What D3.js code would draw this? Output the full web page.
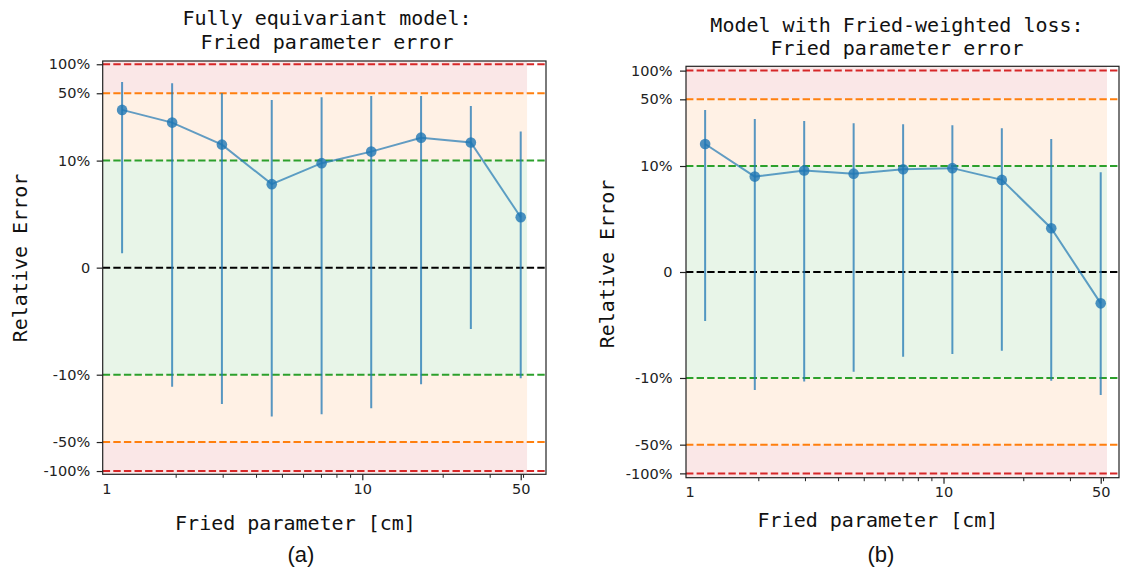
<!DOCTYPE html>
<html><head><meta charset="utf-8">
<script src="https://cdn.jsdelivr.net/npm/d3@7"></script>
<style>body{margin:0;background:#fff} svg{display:block}</style>
</head><body>
<svg id="c" width="1122" height="569"></svg>
<script>
// ---------- data ----------
const friedParam = [1.26, 1.94, 2.98, 4.58, 7.04, 10.8, 16.6, 25.5, 39.2];
const equivMedian = [0.336, 0.248, 0.1465, 0.078, 0.0976, 0.124, 0.173, 0.154, 0.0471];
const equivUpper  = [0.655, 0.635, 0.50, 0.426, 0.455, 0.469, 0.469, 0.369, 0.20];
const equivLower  = [0.0135, -0.133, -0.201, -0.272, -0.257, -0.223, -0.126, -0.0573, -0.109];
const weightedMedian = [0.170, 0.090, 0.0957, 0.0928, 0.097, 0.098, 0.0869, 0.0413, -0.0296];
const weightedUpper  = [0.387, 0.312, 0.297, 0.281, 0.274, 0.2676, 0.249, 0.192, 0.094];
const weightedLower  = [-0.0463, -0.134, -0.109, -0.094, -0.080, -0.0774, -0.0743, -0.107, -0.151];
const yTickValues = [-1, -0.5, -0.1, 0, 0.1, 0.5, 1];
const yTickLabels = ["-100%", "-50%", "-10%", "0", "10%", "50%", "100%"];
const xTickValues = [1.1, 10, 39.2];
const xTickLabels = ["1", "10", "50"];
const xMinorTicks = [2, 3, 4, 5, 6, 7, 8, 9, 20, 30, 40];
const bandLimits = [0.1, 0.5, 1];          // green / orange / red thresholds
const shadeEnd = 41.4;                      // x extent of shaded bands
const titles = [["Fully equivariant model:", "Fried parameter error"],
                ["Model with Fried-weighted loss:", "Fried parameter error"]];
const panelTags = ["(a)", "(b)"];

// ---------- layout ----------
const panels = [
  {x0:102.7, x1:546, y0:61, y1:474.3, xDom:[1.066, 48.75], yMax:1.081,
   med:equivMedian, lo:equivLower, hi:equivUpper, title:titles[0],
   titleX:327, titleY:[25, 48.5], xlabX:295.5, xlabY:530, ylabX:27, ylabY:258,
   tagX:301, tagY:562, tag:panelTags[0], yPad:6.5},
  {x0:686, x1:1119, y0:66.3, y1:477.7, xDom:[1.067, 45.95], yMax:1.11,
   med:weightedMedian, lo:weightedLower, hi:weightedUpper, title:titles[1],
   titleX:897, titleY:[31.5, 55], xlabX:878, xlabY:527, ylabX:614, ylabY:264,
   tagX:881, tagY:562, tag:panelTags[1], yPad:7.5}
];

// matplotlib-style symlog transform (linthresh 0.1, linscale 1)
const LINTHRESH = 0.1, LINSCALE_ADJ = 1 / (1 - 1 / 10);
function symlog(v) {
  const a = Math.abs(v);
  const t = a <= LINTHRESH ? a / LINTHRESH * LINSCALE_ADJ : LINSCALE_ADJ + Math.log10(a / LINTHRESH);
  return Math.sign(v) * t;
}

const svg = d3.select("#c");
const blue = "#1f77b4";
const bandColors = {green:"#2ca02c", orange:"#ff7f0e", red:"#d62728"};
const mono = "'DejaVu Sans Mono', monospace";

panels.forEach((p, pi) => {
  const x = d3.scaleLog().domain(p.xDom).range([p.x0, p.x1]);
  const yT = d3.scaleLinear().domain([symlog(-p.yMax), symlog(p.yMax)]).range([p.y1, p.y0]);
  const y = v => yT(symlog(v));
  const g = svg.append("g");

  const clipId = "clip" + pi;
  g.append("clipPath").attr("id", clipId).append("rect")
    .attr("x", p.x0).attr("y", p.y0).attr("width", p.x1 - p.x0).attr("height", p.y1 - p.y0);
  const plot = g.append("g").attr("clip-path", `url(#${clipId})`);

  // shaded bands
  const bands = [
    {a: bandLimits[1], b: p.yMax, c: bandColors.red, o: 0.11},
    {a: bandLimits[0], b: bandLimits[1], c: bandColors.orange, o: 0.11},
    {a: -bandLimits[0], b: bandLimits[0], c: bandColors.green, o: 0.11},
    {a: -bandLimits[1], b: -bandLimits[0], c: bandColors.orange, o: 0.11},
    {a: -p.yMax, b: -bandLimits[1], c: bandColors.red, o: 0.11}
  ];
  plot.selectAll("rect.band").data(bands).join("rect").attr("class", "band")
    .attr("x", x(p.xDom[0])).attr("width", x(shadeEnd) - x(p.xDom[0]))
    .attr("y", d => y(d.b)).attr("height", d => y(d.a) - y(d.b))
    .attr("fill", d => d.c).attr("fill-opacity", d => d.o);

  // dashed reference lines
  const refs = [
    {v: 1, c: bandColors.red}, {v: -1, c: bandColors.red},
    {v: 0.5, c: bandColors.orange}, {v: -0.5, c: bandColors.orange},
    {v: 0.1, c: bandColors.green}, {v: -0.1, c: bandColors.green},
    {v: 0, c: "#000"}
  ];
  plot.selectAll("line.ref").data(refs).join("line").attr("class", "ref")
    .attr("x1", p.x0).attr("x2", p.x1).attr("y1", d => y(d.v)).attr("y2", d => y(d.v))
    .attr("stroke", d => d.c).attr("stroke-width", 2).attr("stroke-dasharray", "7.4,3.2");

  // error bars
  plot.selectAll("line.err").data(friedParam).join("line").attr("class", "err")
    .attr("x1", d => x(d)).attr("x2", d => x(d))
    .attr("y1", (d, i) => y(p.lo[i])).attr("y2", (d, i) => y(p.hi[i]))
    .attr("stroke", blue).attr("stroke-width", 2).attr("stroke-opacity", 0.75);

  // line
  const line = d3.line().x(d => x(d[0])).y(d => y(d[1]));
  plot.append("path").datum(friedParam.map((d, i) => [d, p.med[i]]))
    .attr("d", line).attr("fill", "none").attr("stroke", blue)
    .attr("stroke-width", 2).attr("stroke-opacity", 0.7);

  // markers
  plot.selectAll("circle").data(friedParam).join("circle")
    .attr("cx", d => x(d)).attr("cy", (d, i) => y(p.med[i])).attr("r", 5.3)
    .attr("fill", blue).attr("fill-opacity", 0.8);

  // frame
  g.append("rect").attr("x", p.x0).attr("y", p.y0).attr("width", p.x1 - p.x0).attr("height", p.y1 - p.y0)
    .attr("fill", "none").attr("stroke", "#222").attr("stroke-width", 1.2);

  // y axis
  const yAx = d3.axisLeft(yT).tickValues(yTickValues.map(symlog))
    .tickFormat((d, i) => yTickLabels[i]).tickSize(6).tickPadding(p.yPad);
  const ya = g.append("g").attr("transform", `translate(${p.x0},0)`).call(yAx);
  ya.select(".domain").remove();
  ya.selectAll("line").attr("stroke", "#222").attr("stroke-width", 1.2);
  ya.selectAll("text").attr("font-family", "'DejaVu Sans', sans-serif").attr("font-size", 14.5).attr("fill", "#222");

  // x axis (major)
  const xAx = d3.axisBottom(x).tickValues(xTickValues)
    .tickFormat((d, i) => xTickLabels[i]).tickSize(6).tickPadding(3.5);
  const xa = g.append("g").attr("transform", `translate(0,${p.y1})`).call(xAx);
  xa.select(".domain").remove();
  xa.selectAll("line").attr("stroke", "#222").attr("stroke-width", 1.2)
    .attr("stroke-opacity", (d, i) => i === 0 ? 0 : 1);
  xa.selectAll("text").attr("font-family", "'DejaVu Sans', sans-serif").attr("font-size", 14.5).attr("fill", "#222");

  // x axis (minor)
  const xm = g.append("g").attr("transform", `translate(0,${p.y1})`)
    .call(d3.axisBottom(x).tickValues(xMinorTicks).tickFormat("").tickSize(3.5));
  xm.select(".domain").remove();
  xm.selectAll("line").attr("stroke", "#222").attr("stroke-width", 1);

  // titles & labels
  p.title.forEach((t, k) => {
    g.append("text").attr("x", p.titleX).attr("y", p.titleY[k]).attr("text-anchor", "middle")
      .attr("font-family", mono).attr("font-size", 20).attr("fill", "#111").text(t);
  });
  g.append("text").attr("x", p.xlabX).attr("y", p.xlabY).attr("text-anchor", "middle")
    .attr("font-family", mono).attr("font-size", 20).attr("fill", "#111").text("Fried parameter [cm]");
  g.append("text").attr("transform", `translate(${p.ylabX},${p.ylabY}) rotate(-90)`)
    .attr("text-anchor", "middle").attr("font-family", mono).attr("font-size", 20).attr("fill", "#111")
    .text("Relative Error");
  g.append("text").attr("x", p.tagX).attr("y", p.tagY).attr("text-anchor", "middle")
    .attr("font-family", "'Liberation Sans', Arial, sans-serif").attr("font-size", 22).attr("fill", "#111")
    .text(p.tag);
});
</script>
</body></html>
